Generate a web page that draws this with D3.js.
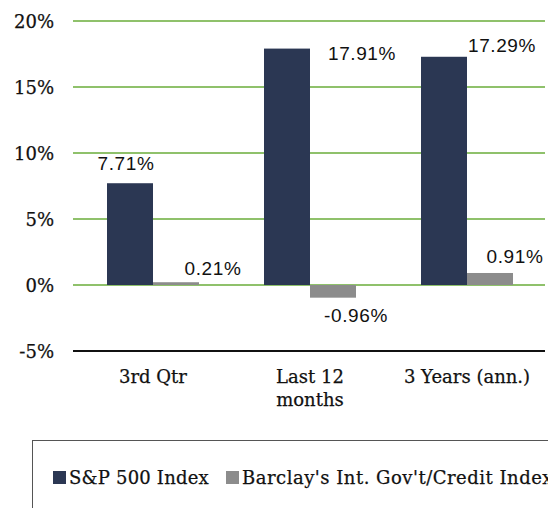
<!DOCTYPE html>
<html><head><meta charset="utf-8">
<script src="https://cdn.jsdelivr.net/npm/d3@7"></script>
<style>body{margin:0;background:#fff}svg{display:block}</style>
</head><body>
<svg id="c" width="548" height="508"></svg>
<script>
const categories = [["3rd Qtr"], ["Last 12", "months"], ["3 Years (ann.)"]];
const seriesNames = ["S&P 500 Index", "Barclay's Int. Gov't/Credit Index"];
const sp500 = [7.71, 17.91, 17.29];
const barclays = [0.21, -0.96, 0.91];
const valueLabels = [["7.71%", "17.91%", "17.29%"], ["0.21%", "-0.96%", "0.91%"]];
const yTicks = [-5, 0, 5, 10, 15, 20];
const yTickLabels = ["-5%", "0%", "5%", "10%", "15%", "20%"];
const colors = ["#2b3753", "#8c8c8c"];
// label offsets (dx, dy) from the default position, per series/category
const labelOffsets = [[[-4, 0], [75, 24], [58, 8]], [[37, 6], [23, 0], [25, 3]]];

const svg = d3.select("#c");
const x0 = d3.scaleBand().domain(d3.range(categories.length)).range([74.5, 545.5]);
const y = d3.scaleLinear().domain([-5, 20]).range([351, 21]);
const bw = 46;
const serif = "'DejaVu Serif', serif";

// gridlines
svg.append("g").selectAll("line").data(yTicks).join("line")
  .attr("x1", 73).attr("x2", 545)
  .attr("y1", d => y(d)).attr("y2", d => y(d))
  .attr("stroke", d => d === -5 ? "#111" : "#8fc16b")
  .attr("stroke-width", 2);

// y axis labels
const yAxis = d3.axisLeft(y).tickValues(yTicks).tickSize(0).tickPadding(0)
  .tickFormat((d, i) => yTickLabels[i]);
const ga = svg.append("g").attr("transform", "translate(54,0)").call(yAxis);
ga.select(".domain").remove();
ga.selectAll("text").attr("font-family", serif).attr("font-size", 18).attr("fill", "#111")
  .attr("stroke", "#111").attr("stroke-width", 0.25).attr("dy", "0.38em");

const series = [sp500, barclays];
series.forEach((vals, s) => {
  svg.append("g").selectAll("rect").data(vals).join("rect")
    .attr("x", (d, i) => x0(i) + x0.bandwidth() / 2 - bw + s * bw)
    .attr("width", bw)
    .attr("y", d => y(Math.max(0, d)))
    .attr("height", d => Math.abs(y(d) - y(0)))
    .attr("fill", colors[s]);
  svg.append("g").selectAll("text").data(vals).join("text")
    .attr("x", (d, i) => x0(i) + x0.bandwidth() / 2 - bw / 2 + s * bw + labelOffsets[s][i][0])
    .attr("y", (d, i) => (d >= 0 ? y(d) - 13 : y(d) + 24) + labelOffsets[s][i][1])
    .attr("text-anchor", "middle")
    .attr("font-family", "'Liberation Sans', Arial, sans-serif")
    .attr("font-size", 19)
    .attr("letter-spacing", 0.6)
    .attr("fill", "#111")
    .text((d, i) => valueLabels[s][i]);
});

// category labels
const cg = svg.append("g");
categories.forEach((lines, i) => {
  const t = cg.append("text").attr("x", x0(i) + x0.bandwidth() / 2).attr("y", 383)
    .attr("text-anchor", "middle").attr("font-family", serif).attr("font-size", 18).attr("fill", "#111")
    .attr("stroke", "#111").attr("stroke-width", 0.25);
  lines.forEach((l, j) => t.append("tspan").attr("x", x0(i) + x0.bandwidth() / 2).attr("dy", j ? 23 : 0).text(l));
});

// legend
svg.append("rect").attr("x", 32.5).attr("y", 440.5).attr("width", 600).attr("height", 100)
  .attr("fill", "none").attr("stroke", "#555").attr("stroke-width", 1);
const lgX = [53, 226];
const lgSpacing = [0.2, 0.5];
seriesNames.forEach((n, s) => {
  svg.append("rect").attr("x", lgX[s]).attr("y", 471).attr("width", 13).attr("height", 13).attr("fill", colors[s]);
  svg.append("text").attr("x", lgX[s] + 16).attr("y", 484).attr("font-family", serif).attr("font-size", 18)
    .attr("letter-spacing", lgSpacing[s])
    .attr("stroke", "#111").attr("stroke-width", 0.25)
    .attr("fill", "#111").text(n);
});
</script>
</body></html>
